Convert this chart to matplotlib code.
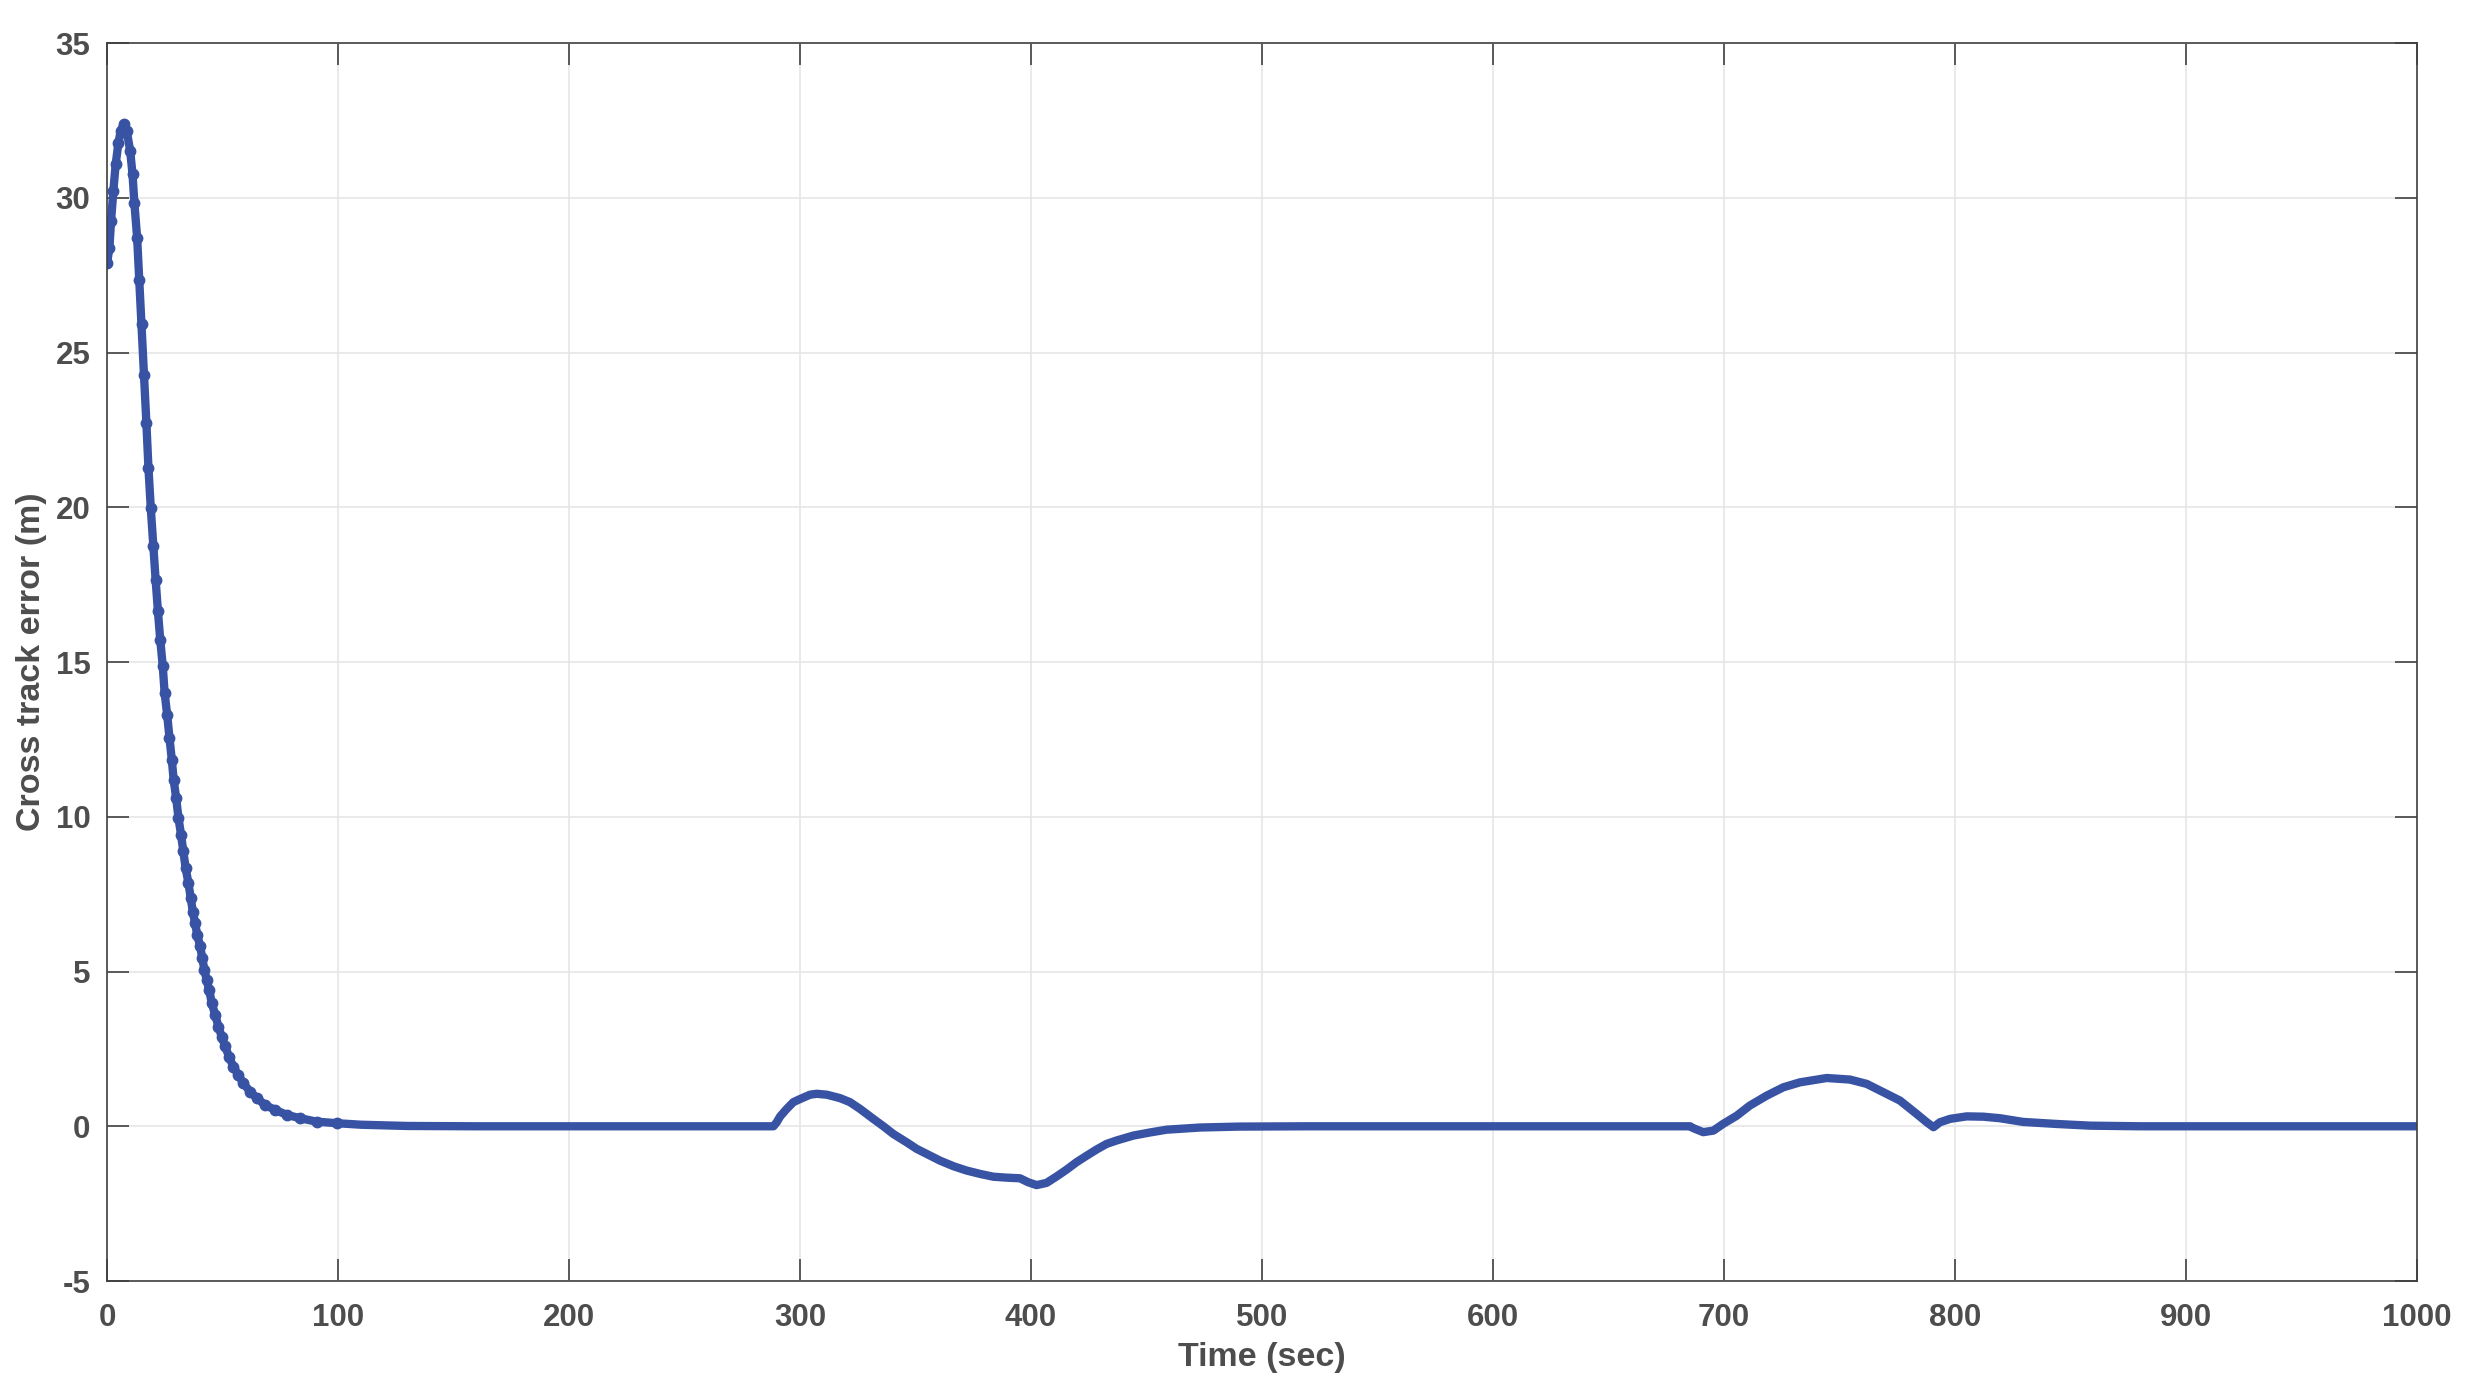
import numpy as np
import matplotlib
matplotlib.use("Agg")
import matplotlib.pyplot as plt

plt.rcParams['font.family'] = ['Liberation Sans', 'DejaVu Sans']
plt.rcParams['axes.unicode_minus'] = False

# time (sec) and cross track error (m)
t_start = [0, 1, 1.7, 2.7, 3.7, 4.9, 5.9, 7.1, 8.5, 10, 11, 11.8, 13, 13.9, 14.9,
           15.9, 17, 17.9, 18.9, 20, 21, 22, 23, 24.1, 24.9, 26, 27, 28, 28.8,
           29.9, 30.9, 32, 33, 34, 35.2, 36.2, 37.1, 38.1, 39, 40.3, 41.2, 42.1,
           43.1, 44.2, 45.3, 46.8, 48.2, 49.6, 51.1, 52.8, 54.6, 56.8, 59, 61.9,
           64.8, 68.4, 72.7, 77.8, 83.5, 90.7, 99.4]
e_start = [27.9, 28.39, 29.25, 30.22, 31.08, 31.78, 32.16, 32.37, 32.16, 31.51,
           30.76, 29.84, 28.71, 27.36, 25.91, 24.29, 22.73, 21.27, 19.98, 18.74,
           17.66, 16.64, 15.72, 14.86, 14.0, 13.3, 12.55, 11.85, 11.2, 10.6,
           9.96, 9.42, 8.88, 8.34, 7.86, 7.37, 6.94, 6.56, 6.19, 5.81, 5.43,
           5.06, 4.73, 4.41, 3.98, 3.6, 3.22, 2.9, 2.58, 2.25, 1.93, 1.66, 1.39,
           1.12, 0.91, 0.69, 0.53, 0.37, 0.26, 0.15, 0.1]

t_rest = [110, 130, 160, 200, 250, 288.5, 289.9, 291.4, 294.2, 297.1, 300,
          304.3, 307.2, 311.6, 317.3, 321.6, 326, 331.7, 336.1, 340.4, 346.2,
          350.5, 356.3, 360.6, 366.4, 372.1, 378, 383.7, 389.5, 395.2, 398.8,
          402.4, 406.7, 411.1, 415.4, 419.7, 424.1, 428.4, 432.7, 437, 444.3,
          451.5, 458.7, 473.2, 490, 520, 600, 682.4, 685.3, 686.7, 691, 695.4,
          699.7, 705.5, 711.2, 718.5, 725.7, 732.9, 744.5, 754.5, 761.8, 769,
          776.2, 783.4, 787.8, 790.7, 793.5, 797.9, 805.1, 812.3, 819.5, 829.6,
          844, 858.5, 880, 920, 1000]
e_rest = [0.05, 0.01, 0.0, 0.0, 0.0, 0.0, 0.13, 0.32, 0.56, 0.78, 0.88,
          1.02, 1.05, 1.02, 0.91, 0.78, 0.56, 0.24, 0.0, -0.25, -0.52,
          -0.73, -0.95, -1.11, -1.29, -1.43, -1.54, -1.63, -1.66, -1.68, -1.81,
          -1.9, -1.83, -1.62, -1.4, -1.16, -0.95, -0.75, -0.57, -0.46, -0.3,
          -0.2, -0.11, -0.04, -0.01, 0.0, 0.0, 0.0, 0.0, -0.06, -0.19, -0.14,
          0.08, 0.34, 0.67, 0.99, 1.26, 1.42, 1.56, 1.51, 1.37, 1.1,
          0.83, 0.4, 0.13, -0.03, 0.13, 0.24, 0.32, 0.31, 0.26, 0.14,
          0.075, 0.02, 0.0, 0.0, 0.0]

t = np.array(t_start + t_rest)
e = np.array(e_start + e_rest)

grey = '#4d4d4d'
fig = plt.figure(figsize=(24.68, 13.9), dpi=100)
ax = fig.add_axes([0.0434, 0.0784, 0.9359, 0.8906])

ax.plot(t, e, color='#3953a4', linewidth=6, marker='.', markersize=15,
        markevery=list(range(len(t_start))), solid_joinstyle='round',
        solid_capstyle='round')

ax.set_xlim(0, 1000)
ax.set_ylim(-5, 35)
ax.set_xticks(np.arange(0, 1001, 100))
ax.set_yticks(np.arange(-5, 36, 5))
ax.grid(True, color='#e6e6e6', linewidth=1.2)
ax.set_axisbelow(True)
ax.tick_params(direction='in', length=16, width=1.2, color='#404040',
               labelsize=22.5, labelcolor=grey, top=True, right=True)
ax.tick_params(axis='x', pad=16)
ax.tick_params(axis='y', pad=12)
for lab in ax.get_xticklabels() + ax.get_yticklabels():
    lab.set_fontweight('bold')
for s in ax.spines.values():
    s.set_color('#404040')
    s.set_linewidth(1.2)

ax.set_xlabel('Time (sec)', fontsize=24.5, fontweight='bold', color=grey, labelpad=6)
ax.set_ylabel('Cross track error (m)', fontsize=24.5, fontweight='bold', color=grey, labelpad=6)

fig.savefig('out.png', dpi=100)
